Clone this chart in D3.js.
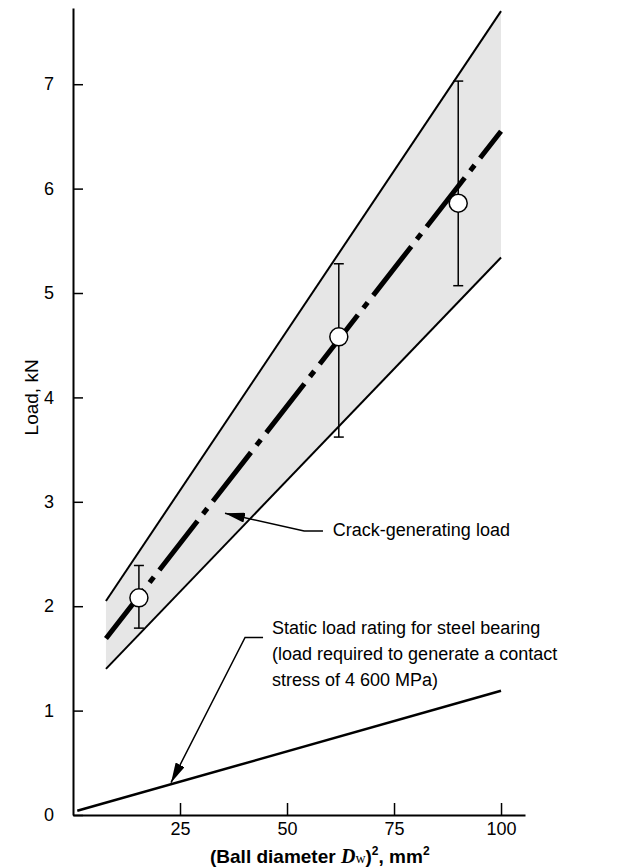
<!DOCTYPE html>
<html>
<head>
<meta charset="utf-8">
<script src="https://cdn.jsdelivr.net/npm/d3@7"></script>
<style>
  body { margin: 0; background: #fff; }
  text { font-family: "Liberation Sans", Arial, Helvetica, sans-serif; }
</style>
</head>
<body>
<div id="chart"></div>
<script>
// ball diameter squared (mm^2) and load (kN)
const xTicks = [25, 50, 75, 100];
const yTicks = [0, 1, 2, 3, 4, 5, 6, 7];

const bandX = [7.7, 100];
const bandUpper = [2.05, 7.70];
const bandLower = [1.40, 5.34];
const meanLoad = [1.69, 6.55];

const testD2 = [15.4, 62.1, 90.0];
const testLoad = [2.08, 4.58, 5.86];
const testMin = [1.79, 3.62, 5.07];
const testMax = [2.39, 5.28, 7.03];

const staticX = [1, 100];
const staticLoad = [0.04, 1.19];

const width = 625;
const height = 868;
const margin = {top: 8, right: 100, bottom: 53, left: 73};

const svg = d3.select("#chart")
  .append("svg")
  .attr("width", width)
  .attr("height", height)
  .attr("viewBox", [0, 0, width, height]);

const x = d3.scaleLinear()
  .domain([0, 105.6])
  .range([margin.left, width - margin.right]);

const y = d3.scaleLinear()
  .domain([0, 7.73])
  .range([height - margin.bottom, margin.top]);

const band = bandX.map((d, i) => ({x: d, lo: bandLower[i], hi: bandUpper[i]}));

// grey scatter band
svg.append("path")
  .datum(band)
  .attr("fill", "#e6e6e6")
  .attr("d", d3.area().x(d => x(d.x)).y0(d => y(d.lo)).y1(d => y(d.hi)));

const line = d3.line().x(d => x(d[0])).y(d => y(d[1]));

svg.append("path")
  .datum(bandX.map((d, i) => [d, bandUpper[i]]))
  .attr("fill", "none").attr("stroke", "#000").attr("stroke-width", 2)
  .attr("d", line);

svg.append("path")
  .datum(bandX.map((d, i) => [d, bandLower[i]]))
  .attr("fill", "none").attr("stroke", "#000").attr("stroke-width", 2)
  .attr("d", line);

// mean line, dash-dot
svg.append("path")
  .datum(bandX.map((d, i) => [d, meanLoad[i]]))
  .attr("fill", "none").attr("stroke", "#000").attr("stroke-width", 5)
  .attr("stroke-dasharray", "62,9,7,9")
  .attr("d", line);

// static load rating
svg.append("path")
  .datum(staticX.map((d, i) => [d, staticLoad[i]]))
  .attr("fill", "none").attr("stroke", "#000").attr("stroke-width", 2.5)
  .attr("d", line);

// error bars + circles
const tests = testD2.map((d, i) => ({x: d, y: testLoad[i], lo: testMin[i], hi: testMax[i]}));

const eb = svg.append("g").attr("stroke", "#000").attr("stroke-width", 1.5);
eb.selectAll(".bar").data(tests).join("line")
  .attr("x1", d => x(d.x)).attr("x2", d => x(d.x))
  .attr("y1", d => y(d.lo)).attr("y2", d => y(d.hi));
eb.selectAll(".capTop").data(tests).join("line")
  .attr("x1", d => x(d.x) - 5).attr("x2", d => x(d.x) + 5)
  .attr("y1", d => y(d.hi)).attr("y2", d => y(d.hi));
eb.selectAll(".capBot").data(tests).join("line")
  .attr("x1", d => x(d.x) - 5).attr("x2", d => x(d.x) + 5)
  .attr("y1", d => y(d.lo)).attr("y2", d => y(d.lo));

svg.append("g")
  .selectAll("circle")
  .data(tests)
  .join("circle")
  .attr("cx", d => x(d.x))
  .attr("cy", d => y(d.y))
  .attr("r", 9)
  .attr("fill", "#fff")
  .attr("stroke", "#000")
  .attr("stroke-width", 1.5);

// axes
function xAxis(g) {
  g.attr("transform", `translate(0, ${y(0)})`)
    .call(d3.axisBottom(x).tickValues(xTicks).tickSizeInner(-12).tickSizeOuter(0).tickPadding(7))
    .attr("font-size", 18)
    .attr("font-family", null);
  g.select(".domain").attr("stroke-width", 2);
  g.selectAll(".tick line").attr("stroke-width", 1.5);
}

function yAxis(g) {
  g.attr("transform", `translate(${x(0)}, 0)`)
    .call(d3.axisLeft(y).tickValues(yTicks).tickSizeInner(-10).tickSizeOuter(0).tickPadding(19))
    .attr("font-size", 18)
    .attr("font-family", null);
  g.select(".domain").attr("stroke-width", 2);
  g.selectAll(".tick line").attr("stroke-width", 1.5);
}

svg.append("g").call(xAxis);
svg.append("g").call(yAxis);

// axis titles
svg.append("text")
  .attr("transform", `translate(38, ${y(4.0)}) rotate(-90)`)
  .attr("text-anchor", "middle")
  .attr("font-size", 19)
  .text("Load, kN");

const xt = svg.append("text")
  .attr("x", 210)
  .attr("y", 863)
  .attr("font-size", 19)
  .attr("font-weight", "bold");
xt.append("tspan").text("(Ball diameter ");
xt.append("tspan").attr("font-family", "Liberation Serif").attr("font-style", "italic").attr("font-size", 20).text("D");
xt.append("tspan").attr("font-family", "Liberation Serif").attr("font-weight", "normal").attr("font-size", 14).text("w");
xt.append("tspan").text(")");
xt.append("tspan").attr("font-size", 12).attr("dy", -8).text("2");
xt.append("tspan").attr("dy", 8).text(", mm");
xt.append("tspan").attr("font-size", 12).attr("dy", -8).text("2");

// annotations with arrows
svg.append("defs").append("marker")
  .attr("id", "head")
  .attr("viewBox", "0 0 20 10")
  .attr("refX", 20).attr("refY", 5)
  .attr("markerWidth", 20).attr("markerHeight", 10)
  .attr("markerUnits", "userSpaceOnUse")
  .attr("orient", "auto")
  .append("path")
  .attr("d", "M0,0L20,5L0,10Z")
  .attr("fill", "#000");

const crackLeader = [[58.4, 2.72], [54.0, 2.72], [35.5, 2.89]];
const staticLeader = [[44.4, 1.70], [40.2, 1.70], [22.9, 0.31]];

[crackLeader, staticLeader].forEach(pts => {
  svg.append("path")
    .datum(pts)
    .attr("fill", "none")
    .attr("stroke", "#000")
    .attr("stroke-width", 1.5)
    .attr("marker-end", "url(#head)")
    .attr("d", line);
});

svg.append("text")
  .attr("x", x(60.7))
  .attr("y", y(2.67))
  .attr("font-size", 18)
  .text("Crack-generating load");

const staticText = [
  "Static load rating for steel bearing",
  "(load required to generate a contact",
  "stress of 4 600 MPa)"
];
svg.append("g")
  .selectAll("text")
  .data(staticText)
  .join("text")
  .attr("x", x(46.5))
  .attr("y", (d, i) => y(1.73) + i * 26)
  .attr("font-size", 18)
  .text(d => d);
</script>
</body>
</html>
